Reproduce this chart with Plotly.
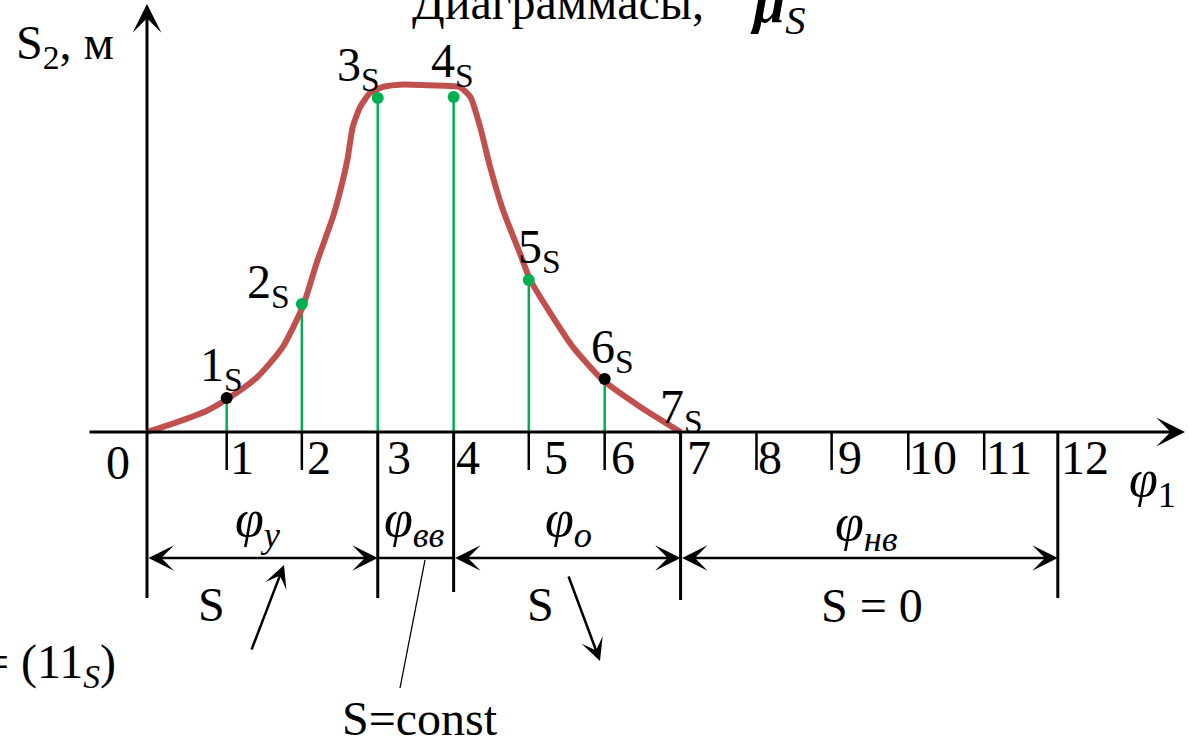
import plotly.graph_objects as go

# ---------------- data ----------------
phi_ticks = [1, 2, 3, 4, 5, 6, 7, 8, 9, 10, 11, 12]
phi_pos = [1.05, 2.04, 3.04, 4.04, 5.03, 6.03, 7.03, 8.03, 9.02, 10.03, 11.03, 12.0]

curve_phi = [0.0, 0.34, 0.79, 1.05, 1.45, 1.79, 2.06, 2.24, 2.45, 2.54, 2.64, 2.71, 2.81,
             2.94, 3.11, 3.33, 4.04, 4.12, 4.26, 4.39, 4.52, 4.69, 4.91, 5.05, 5.31,
             5.61, 6.01, 6.50, 7.03]
curve_S = [0.0, 0.11, 0.28, 0.43, 0.72, 1.12, 1.67, 2.24, 2.83, 3.15, 3.58, 4.01, 4.28,
           4.46, 4.54, 4.57, 4.55, 4.54, 4.41, 4.01, 3.49, 2.92, 2.36, 2.00, 1.57,
           1.12, 0.68, 0.33, 0.0]

point_names = ["1", "2", "3", "4", "5", "6", "7"]
point_S = [0.447, 1.684, 4.395, 4.408, 2.0, 0.697, 0.0]
point_colors = ["#000000", "#00B050", "#00B050", "#00B050", "#00B050", "#000000", "rgba(0,0,0,0)"]

# ---------------- geometry helpers (page pixels -> data) ----------------
X0, KX = 147.0, 75.9
Y0, KY = 432.0, 76.0
W, H = 1189, 747


def X(px):
    return (px - X0) / KX


def Y(py):
    return (Y0 - py) / KY


FONT = "Liberation Serif"
BLACK = "#000000"
GREEN = "#00B050"
RED = "#C0504D"

fig = go.Figure()

# green stems
sx, sy = [], []
for i in range(6):
    sx += [phi_pos[i], phi_pos[i], None]
    sy += [0, point_S[i], None]
fig.add_trace(go.Scatter(x=sx, y=sy, mode="lines", line=dict(color=GREEN, width=2.5),
                         hoverinfo="skip", showlegend=False))

# S curve
fig.add_trace(go.Scatter(x=curve_phi, y=curve_S, mode="lines",
                         line=dict(color=RED, width=6, shape="spline", smoothing=0.6),
                         showlegend=False))

# points
fig.add_trace(go.Scatter(x=phi_pos[:7], y=point_S, mode="markers",
                         marker=dict(color=point_colors, size=12),
                         showlegend=False))

shapes = []


def line(x0, y0, x1, y1, w=3, c=BLACK):
    shapes.append(dict(type="line", xref="x", yref="y", x0=x0, y0=y0, x1=x1, y1=y1,
                       line=dict(color=c, width=w)))


# long boundary lines
line(0, Y(598), 0, 0)
for k, bot in [(2, 598), (3, 592), (6, 600), (11, 598)]:
    line(phi_pos[k], 0, phi_pos[k], Y(bot))
# short ticks
for k in [0, 1, 4, 5, 7, 8, 9, 10]:
    line(phi_pos[k], 0, phi_pos[k], Y(470), w=2.5)
# plain dimension segment between 3 and 4
yd = Y(558)
line(phi_pos[2], yd, phi_pos[3], yd, w=2.5)
# leader line to S=const
line(X(425), Y(560), X(400), Y(688), w=1.3)

annotations = []


def arrow(x0, y0, x1, y1, both=False, w=3, size=1.6):
    annotations.append(dict(x=x1, y=y1, ax=x0, ay=y0, xref="x", yref="y", axref="x", ayref="y",
                            text="", showarrow=True, arrowhead=3, arrowsize=size, arrowwidth=w,
                            arrowcolor=BLACK, arrowside="end+start" if both else "end",
                            standoff=0, startstandoff=0))


# axes
arrow(X(88), 0, X(1185), 0)
arrow(0, 0, 0, Y(4))
# dimension arrows
arrow(0, yd, phi_pos[2], yd, both=True, w=2.5, size=1.7)
arrow(phi_pos[3], yd, phi_pos[6], yd, both=True, w=2.5, size=1.7)
arrow(phi_pos[6], yd, phi_pos[11], yd, both=True, w=2.5, size=1.7)
# direction arrows
arrow(X(251), Y(651), X(284), Y(565), w=2.5, size=1.5)
arrow(X(568), Y(575), X(600), Y(661), w=2.5, size=1.5)


def text(px, py, s, size=46, xanchor="center", yanchor="middle"):
    annotations.append(dict(x=X(px), y=Y(py), xref="x", yref="y", text=s, showarrow=False,
                            xanchor=xanchor, yanchor=yanchor,
                            font=dict(family=FONT, size=size, color=BLACK)))


# tick labels
tick_left = [228, 305, 385, 454, 542, 609, 685, 756, 836, 907, 984, 1059]
for t, xl in zip(phi_ticks, tick_left):
    text(xl, 457, str(t), size=48, xanchor="left")
text(118, 462, "0", size=48)

# point labels
label_centers = [(221, 368), (268, 285), (358, 68), (452, 64), (539, 250), (612, 350), (681, 410)]
for n, (cx, cy) in zip(point_names, label_centers):
    text(cx, cy, n + "<sub>S</sub>", size=48)

# axis titles
text(14, 46, "S<sub>2</sub>, м", size=48, xanchor="left")
text(1152, 482, "<i>φ</i><sub>1</sub>", size=52)

# phase labels
text(258, 522, "<i>φ</i><sub><i>у</i></sub>", size=52)
text(414, 522, "<i>φ</i><sub><i>вв</i></sub>", size=52)
text(568, 522, "<i>φ</i><sub><i>о</i></sub>", size=52)
text(866, 526, "<i>φ</i><sub><i>нв</i></sub>", size=52)

text(211, 604, "S", size=48)
text(540, 604, "S", size=48)
text(872, 605, "S = 0", size=48)
text(420, 718, "S=const", size=48)
text(118, 665, "= (11<sub><i>S</i></sub>)", size=48, xanchor="right")

# top (clipped) title
text(558, 2, "Диаграммасы,", size=48)
text(778, 6, "<b><i>μ</i></b><sub><i>S</i></sub>", size=58)

fig.update_layout(
    width=W, height=H, autosize=False,
    margin=dict(l=0, r=0, t=0, b=0),
    paper_bgcolor="white", plot_bgcolor="white",
    xaxis=dict(range=[X(0), X(W)], visible=False, fixedrange=True),
    yaxis=dict(range=[Y(H), Y(0)], visible=False, fixedrange=True),
    shapes=shapes, annotations=annotations, showlegend=False,
)

fig.write_html("out.html", config={"displayModeBar": False},
               post_script="document.body.style.margin='0';document.body.style.overflow='hidden';")
